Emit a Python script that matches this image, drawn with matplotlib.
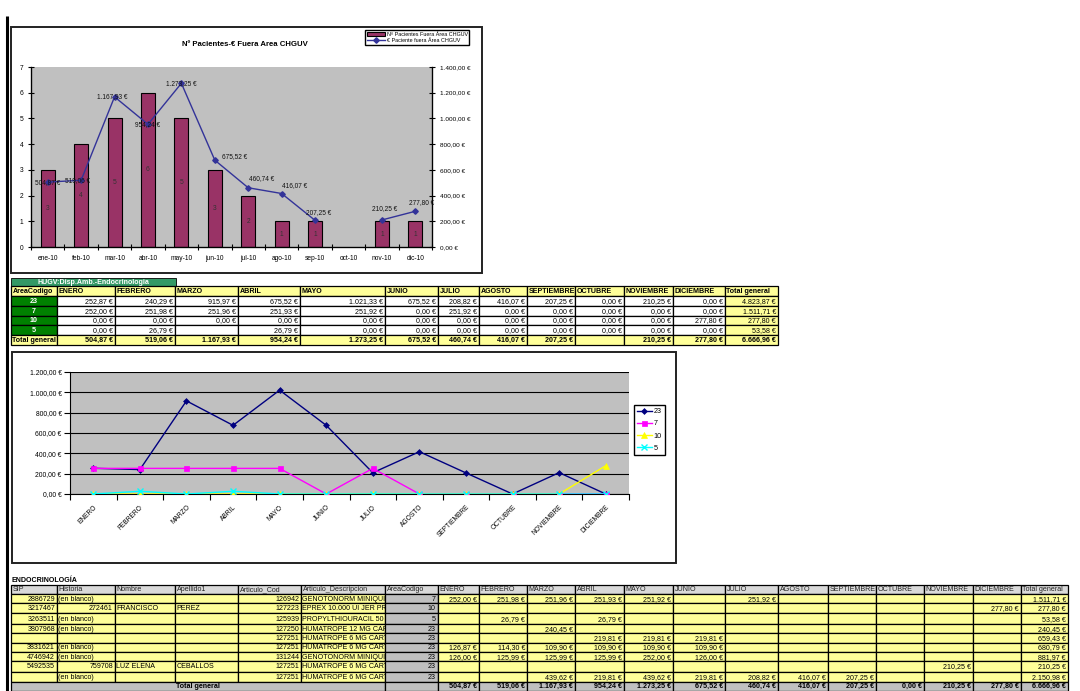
import numpy as np
import matplotlib
matplotlib.use('Agg')
import matplotlib.pyplot as plt
from matplotlib.patches import Rectangle
from matplotlib.transforms import Bbox, TransformedBbox

plt.rcParams['font.family'] = ['Liberation Sans', 'DejaVu Sans']

# ------------------------------------------------------------------ data
months_short = ['ene-10', 'feb-10', 'mar-10', 'abr-10', 'may-10', 'jun-10',
                'jul-10', 'ago-10', 'sep-10', 'oct-10', 'nov-10', 'dic-10']
months = ['ENERO', 'FEBRERO', 'MARZO', 'ABRIL', 'MAYO', 'JUNIO', 'JULIO',
          'AGOSTO', 'SEPTIEMBRE', 'OCTUBRE', 'NOVIEMBRE', 'DICIEMBRE']
patients = [3, 4, 5, 6, 5, 3, 2, 1, 1, np.nan, 1, 1]
euros_month = [504.87, 519.06, 1167.93, 954.24, 1273.25, 675.52, 460.74,
               416.07, 207.25, np.nan, 210.25, 277.80]

area_codes = ['23', '7', '10', '5']
area_23 = [252.87, 240.29, 915.97, 675.52, 1021.33, 675.52, 208.82, 416.07, 207.25, 0.00, 210.25, 0.00]
area_7 = [252.00, 251.98, 251.96, 251.93, 251.92, 0.00, 251.92, 0.00, 0.00, 0.00, 0.00, 0.00]
area_10 = [0.00, 0.00, 0.00, 0.00, 0.00, 0.00, 0.00, 0.00, 0.00, 0.00, 0.00, 277.80]
area_5 = [0.00, 26.79, np.nan, 26.79, 0.00, 0.00, 0.00, 0.00, 0.00, 0.00, 0.00, 0.00]
area_totals = [4823.87, 1511.71, 277.80, 53.58]
grand_total = 6666.96

# detail table
det_sip = ['2886729', '3217467', '3263511', '3807968', '', '3831621', '4746942', '5492535', '']
det_hist = ['(en blanco)', '272461', '(en blanco)', '(en blanco)', '', '(en blanco)', '(en blanco)', '759708', '(en blanco)']
det_nombre = ['', 'FRANCISCO', '', '', '', '', '', 'LUZ ELENA', '']
det_apellido = ['', 'PEREZ', '', '', '', '', '', 'CEBALLOS', '']
det_cod = ['126942', '127223', '125939', '127250', '127251', '127251', '131244', '127251', '127251']
det_desc = ['GENOTONORM MINIQUICK', 'EPREX 10.000 UI JER PREC', 'PROPYLTHIOURACIL 50 MG',
            'HUMATROPE 12 MG CARTUCHO', 'HUMATROPE 6 MG CARTUCHO', 'HUMATROPE 6 MG CARTUCHO',
            'GENOTONORM MINIQUICK', 'HUMATROPE 6 MG CARTUCHO', 'HUMATROPE 6 MG CARTUCHO']
det_area = ['7', '10', '5', '23', '23', '23', '23', '23', '23']
det_values = [
    [252.00, 251.98, 251.96, 251.93, 251.92, None, 251.92, None, None, None, None, None],
    [None, None, None, None, None, None, None, None, None, None, None, 277.80],
    [None, 26.79, None, 26.79, None, None, None, None, None, None, None, None],
    [None, None, 240.45, None, None, None, None, None, None, None, None, None],
    [None, None, None, 219.81, 219.81, 219.81, None, None, None, None, None, None],
    [126.87, 114.30, 109.90, 109.90, 109.90, 109.90, None, None, None, None, None, None],
    [126.00, 125.99, 125.99, 125.99, 252.00, 126.00, None, None, None, None, None, None],
    [None, None, None, None, None, None, None, None, None, None, 210.25, None],
    [None, None, 439.62, 219.81, 439.62, 219.81, 208.82, 416.07, 207.25, None, None, None],
]
det_row_totals = [1511.71, 277.80, 53.58, 240.45, 659.43, 680.79, 881.97, 210.25, 2150.98]
det_month_totals = [504.87, 519.06, 1167.93, 954.24, 1273.25, 675.52, 460.74, 416.07, 207.25, 0.00, 210.25, 277.80]


def eur(v):
    if v is None or (isinstance(v, float) and np.isnan(v)):
        return ''
    s = f"{v:,.2f}".replace(',', 'X').replace('.', ',').replace('X', '.')
    return s + ' €'


# ------------------------------------------------------------------ figure
W, H = 1080, 691
fig = plt.figure(figsize=(W / 100, H / 100), dpi=100)
page = fig.add_axes([0, 0, 1, 1], zorder=0)
page.set_xlim(0, W)
page.set_ylim(H, 0)
page.axis('off')


def fpos(x0, y0, x1, y1):
    return [x0 / W, 1 - y1 / H, (x1 - x0) / W, (y1 - y0) / H]


FS = 4.8
TFS = 5.1

# page border
page.plot([7, 7], [16, 691], color='black', lw=2.2, solid_capstyle='butt')

# ================= chart 1 =================
page.add_patch(Rectangle((11, 27), 471, 246, facecolor='white', edgecolor='#222222', lw=1.4))
page.text(245, 44.5, 'Nº Pacientes-€ Fuera Area CHGUV', ha='center', va='center',
          fontsize=5.6, fontweight='bold')

ax1 = fig.add_axes(fpos(31, 67, 432, 247), zorder=2)
ax1.set_facecolor('#C0C0C0')
x = np.arange(12)
bars = ax1.bar(x, patients, width=0.42, color='#993366', edgecolor='black', lw=0.8, zorder=2)
for xi, v in zip(x, patients):
    if not np.isnan(v):
        ax1.text(xi, v / 2, f"{int(v)}", ha='center', va='center', fontsize=FS, color='#333333', zorder=3)
ax1.set_xlim(-0.5, 11.5)
ax1.set_ylim(0, 7)
ax1.set_yticks(range(8))
ax1.set_xticks(x)
ax1.set_xticklabels(months_short, fontsize=FS)
ax1.set_xticks(np.arange(-0.5, 12, 1), minor=True)
ax1.tick_params(axis='x', which='major', length=0, pad=6)
ax1.tick_params(axis='x', which='minor', length=5, direction='inout', width=0.8)
ax1.tick_params(axis='y', labelsize=FS, length=5, direction='inout', width=0.8, pad=3)
ax1.spines['top'].set_visible(False)
for s in ['left', 'bottom', 'right']:
    ax1.spines[s].set_linewidth(0.9)

ax2 = ax1.twinx()
line, = ax2.plot(x, euros_month, color='#333399', lw=1.0, marker='D', ms=2.8, zorder=4)
ax2.set_ylim(0, 1400)
ax2.set_yticks(np.arange(0, 1401, 200))
ax2.set_yticklabels([eur(v) for v in np.arange(0, 1401, 200)], fontsize=4.6)
ax2.tick_params(axis='y', length=5, direction='inout', width=0.8, pad=3)
ax2.spines['top'].set_visible(False)
lab_off = [(0, 0), (-4, 0), (-2, 0), (0, 0), (0, 0), (20, 4), (13, 9), (13, 8),
           (4, 8), (0, 0), (3, 11), (6, 9)]
for xi, v, (dx, dy) in zip(x, euros_month, lab_off):
    if not np.isnan(v):
        ax2.annotate(eur(v), (xi, v), xytext=(dx * 0.72, dy * 0.72), textcoords='offset points',
                     ha='center', va='center', fontsize=4.7, color='#111111', zorder=5)

fig.legend([bars, line], ['Nº Pacientes Fuera Área CHGUV', '€ Paciente fuera Área CHGUV'],
           loc='upper left', bbox_to_anchor=(365 / W, 1 - 30 / H), fontsize=3.9,
           frameon=True, fancybox=False, edgecolor='black', framealpha=1,
           borderpad=0.3, handlelength=3.4, handleheight=0.8, labelspacing=0.3,
           handletextpad=0.3, borderaxespad=0)

# ================= tables helper =================
def cell(x0, x1, y0, y1, text='', fc='white', ha='right', bold=False, color='black', fs=TFS, lw=0.9):
    r = Rectangle((x0, y0), x1 - x0, y1 - y0, facecolor=fc, edgecolor='black', lw=lw, zorder=1)
    page.add_patch(r)
    if text:
        if ha == 'right':
            tx = x1 - 2
        elif ha == 'left':
            tx = x0 + 1.5
        else:
            tx = (x0 + x1) / 2
        t = page.text(tx, (y0 + y1) / 2 + 0.4, text, ha=ha, va='center', fontsize=fs,
                      fontweight='bold' if bold else 'normal', color=color, zorder=2)
        t.set_clip_box(TransformedBbox(Bbox([[x0 + 0.5, y0], [x1 - 0.5, y1]]), page.transData))
        t.set_clip_on(True)


sx = [11, 57, 115, 175, 238, 300, 385, 438, 479, 527, 575, 624, 673, 725, 778]
sy = [286, 296, 305.8, 315.6, 325.4, 335.2, 345]
YEL = '#FFFF99'
cell(11, 176, 278, 286, 'HUGV:Disp.Amb.-Endocrinologia', fc='#339966', ha='center',
     bold=True, color='white', lw=0.6)
heads = ['AreaCodigo'] + months + ['Total general']
for j, h in enumerate(heads):
    cell(sx[j], sx[j + 1], sy[0], sy[1], h, fc=YEL, ha='left', bold=True)
rows = [area_23, area_7, area_10, area_5]
for i, (code, vals) in enumerate(zip(area_codes, rows)):
    y0, y1 = sy[i + 1], sy[i + 2]
    cell(sx[0], sx[1], y0, y1, code, fc='#008000', ha='center', bold=True, color='white')
    for j, v in enumerate(vals):
        cell(sx[j + 1], sx[j + 2], y0, y1, eur(v), fc='white')
    cell(sx[13], sx[14], y0, y1, eur(area_totals[i]), fc=YEL)
y0, y1 = sy[5], sy[6]
cell(sx[0], sx[1], y0, y1, 'Total general', fc=YEL, ha='left', bold=True)
for j, v in enumerate(euros_month):
    cell(sx[j + 1], sx[j + 2], y0, y1, eur(v), fc=YEL, bold=True)
cell(sx[13], sx[14], y0, y1, eur(grand_total), fc=YEL, bold=True)

# ================= chart 2 =================
page.add_patch(Rectangle((12, 352), 664, 211, facecolor='white', edgecolor='#222222', lw=1.4, zorder=0.5))
axb = fig.add_axes(fpos(70, 372, 629, 494), zorder=2)
axb.set_facecolor('#C0C0C0')
series = [('23', area_23, '#000080', 'D', 3.0),
          ('7', area_7, '#FF00FF', 's', 3.6),
          ('10', area_10, '#FFFF00', '^', 3.8),
          ('5', area_5, '#00FFFF', 'x', 3.8)]
for name, vals, col, mk, ms in series:
    axb.plot(x, np.nan_to_num(np.array(vals, dtype=float)), color=col, lw=1.0, marker=mk, ms=ms,
             mew=1.0 if mk == 'x' else 0.5, label=name, zorder=3)
axb.set_xlim(-0.5, 11.5)
axb.set_ylim(0, 1200)
axb.set_yticks(np.arange(0, 1201, 200))
axb.set_yticklabels([eur(v) for v in np.arange(0, 1201, 200)], fontsize=4.9)
axb.yaxis.grid(True, color='black', lw=0.8)
axb.set_axisbelow(True)
axb.set_xticks(x)
axb.set_xticklabels(months, fontsize=FS, rotation=45, ha='right', rotation_mode='anchor')
axb.set_xticks(np.arange(-0.5, 12, 1), minor=True)
axb.tick_params(axis='x', which='major', length=0, pad=7)
axb.tick_params(axis='x', which='minor', length=4, direction='out', width=0.8)
axb.tick_params(axis='y', length=4, direction='out', width=0.8, pad=2)
for s in ['top', 'right']:
    axb.spines[s].set_visible(False)
axb.legend(loc='upper left', bbox_to_anchor=(634 / W, 1 - 405 / H), bbox_transform=fig.transFigure,
           fontsize=5.2, frameon=True, fancybox=False, edgecolor='black', framealpha=1,
           borderpad=0.45, handlelength=2.0, labelspacing=0.7, handletextpad=0.3, borderaxespad=0)

# ================= detail table =================
page.text(12, 580, 'ENDOCRINOLOGÍA', ha='left', va='center', fontsize=TFS, fontweight='bold')
dx_ = [11, 57, 115, 175, 238, 301, 385, 438, 479, 527, 575, 624, 673, 725, 778, 828, 876, 924, 973, 1021, 1068]
dy_ = [585, 594, 603.3, 613.3, 624, 633.3, 642.7, 652, 661.3, 671.7, 681.7, 691]
GR = '#C0C0C0'
dheads = ['SIP', 'Historia', 'Nombre', 'Apellido1', 'Articulo_Cod', 'Articulo_Descripcion',
          'AreaCodigo'] + months + ['Total general']
for j, h in enumerate(dheads):
    cell(dx_[j], dx_[j + 1], dy_[0], dy_[1], h, fc='#D9D9D9', ha='left', color='#222222')
for i in range(len(det_sip)):
    y0, y1 = dy_[i + 1], dy_[i + 2]
    hist = det_hist[i]
    cell(dx_[0], dx_[1], y0, y1, det_sip[i], fc=YEL)
    cell(dx_[1], dx_[2], y0, y1, hist, fc=YEL, ha='right' if hist.isdigit() else 'left')
    cell(dx_[2], dx_[3], y0, y1, det_nombre[i], fc=YEL, ha='left')
    cell(dx_[3], dx_[4], y0, y1, det_apellido[i], fc=YEL, ha='left')
    cell(dx_[4], dx_[5], y0, y1, det_cod[i], fc=YEL)
    cell(dx_[5], dx_[6], y0, y1, det_desc[i], fc=YEL, ha='left')
    cell(dx_[6], dx_[7], y0, y1, det_area[i], fc=GR)
    for j, v in enumerate(det_values[i]):
        cell(dx_[7 + j], dx_[8 + j], y0, y1, eur(v), fc=YEL)
    cell(dx_[19], dx_[20], y0, y1, eur(det_row_totals[i]), fc=YEL)
y0, y1 = dy_[10], dy_[11]
cell(dx_[0], dx_[6], y0, y1, 'Total general', fc=GR, ha='center', bold=True)
cell(dx_[6], dx_[7], y0, y1, '', fc=GR)
for j, v in enumerate(det_month_totals):
    cell(dx_[7 + j], dx_[8 + j], y0, y1, eur(v), fc=GR, bold=True)
cell(dx_[19], dx_[20], y0, y1, eur(grand_total), fc=GR, bold=True)

fig.savefig('out.png', dpi=100)
